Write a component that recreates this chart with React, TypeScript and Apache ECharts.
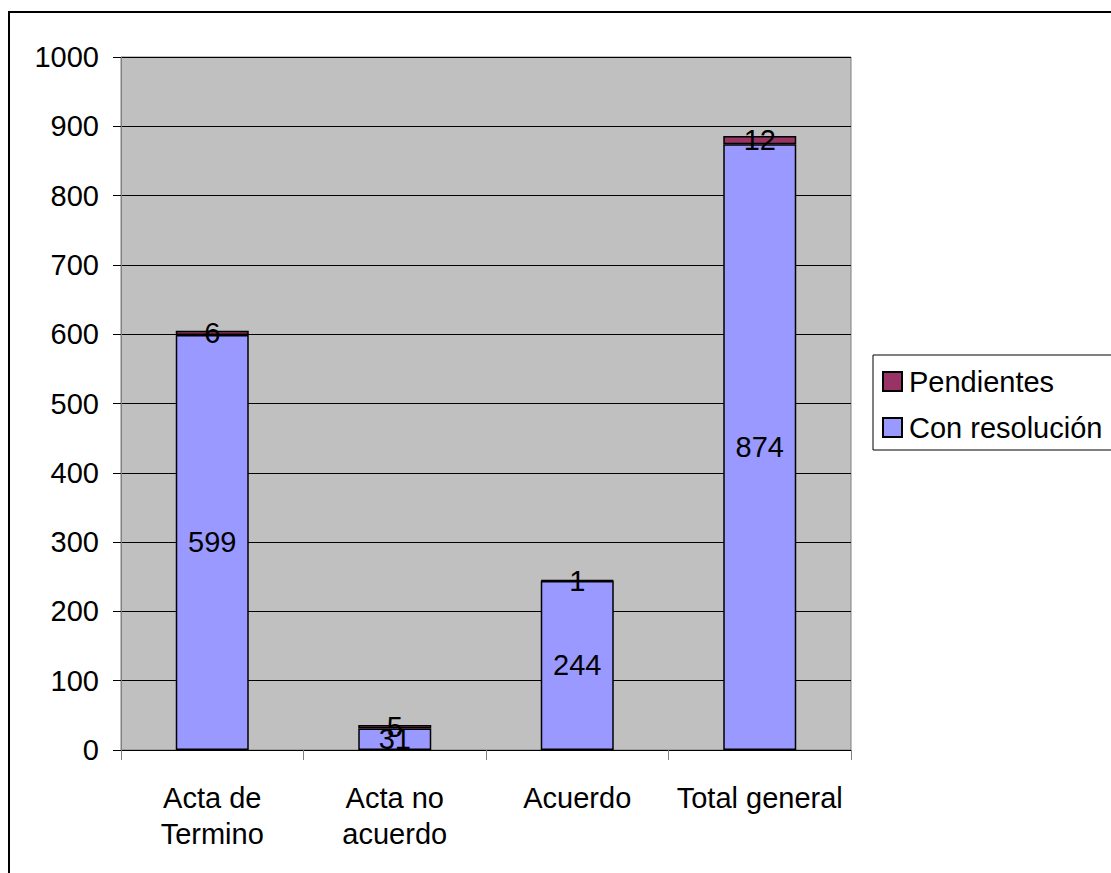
import React, { useEffect, useRef } from "react";
import * as echarts from "echarts";

const categories = ["Acta de\nTermino", "Acta no\nacuerdo", "Acuerdo", "Total general"];
const conResolucion = [599, 31, 244, 874];
const pendientes = [6, 5, 1, 12];
const yTicks = { min: 0, max: 1000, interval: 100 };

const FONT = "Liberation Sans, Arial, sans-serif";
const FS = 29;

export default function App() {
  const ref = useRef<HTMLDivElement>(null);
  useEffect(() => {
    if (!ref.current) return;
    const chart = echarts.init(ref.current, null, { renderer: "svg" });
    const label = {
      show: true,
      position: "inside",
      color: "#000",
      fontSize: FS,
      fontFamily: FONT,
    };
    chart.setOption({
      animation: false,
      backgroundColor: "#fff",
      textStyle: { fontFamily: FONT },
      grid: {
        left: 121,
        top: 57,
        width: 730,
        height: 693,
        show: true,
        backgroundColor: "#C0C0C0",
        borderColor: "#808080",
        borderWidth: 1,
      },
      legend: {
        show: true,
        orient: "vertical",
        left: 873,
        top: 355,
        data: ["Pendientes", "Con resolución"],
        icon: "rect",
        itemWidth: 19,
        itemHeight: 19,
        itemGap: 17,
        padding: [12, 260, 8, 9],
        borderColor: "#000",
        borderWidth: 1,
        backgroundColor: "#fff",
        textStyle: { fontSize: FS, color: "#000", fontFamily: FONT, padding: [0, 0, 0, 2] },
        itemStyle: { borderColor: "#000", borderWidth: 2 },
      },
      xAxis: {
        type: "category",
        data: categories,
        axisLine: { lineStyle: { color: "#000", width: 1 } },
        axisTick: { show: true, length: 10, lineStyle: { color: "#808080" } },
        axisLabel: {
          color: "#000",
          fontSize: FS,
          fontFamily: FONT,
          lineHeight: 36,
          margin: 30,
          interval: 0,
        },
      },
      yAxis: {
        type: "value",
        min: yTicks.min,
        max: yTicks.max,
        interval: yTicks.interval,
        axisLine: { show: true, lineStyle: { color: "#808080" } },
        axisTick: { show: true, length: 8, lineStyle: { color: "#000" } },
        splitLine: { show: true, lineStyle: { color: "#000", width: 1 } },
        axisLabel: {
          color: "#000",
          fontSize: FS,
          fontFamily: FONT,
          margin: 22,
          formatter: (v: number) => String(v),
        },
      },
      series: [
        {
          name: "Con resolución",
          type: "bar",
          stack: "total",
          data: conResolucion,
          barWidth: "40%",
          itemStyle: { color: "#9999FF", borderColor: "#000", borderWidth: 1.5 },
          label,
        },
        {
          name: "Pendientes",
          type: "bar",
          stack: "total",
          data: pendientes,
          barWidth: "40%",
          itemStyle: { color: "#993366", borderColor: "#000", borderWidth: 1.5 },
          label,
        },
      ],
      graphic: [
        {
          type: "rect",
          shape: { x: 9, y: 12, width: 1300, height: 1000 },
          style: { fill: "none", stroke: "#000", lineWidth: 2 },
          silent: true,
          z: 100,
        },
      ],
    });
    return () => chart.dispose();
  }, []);
  return (
    <div
      ref={ref}
      style={{ position: "fixed", left: 0, top: 0, width: 1111, height: 873 }}
    />
  );
}
